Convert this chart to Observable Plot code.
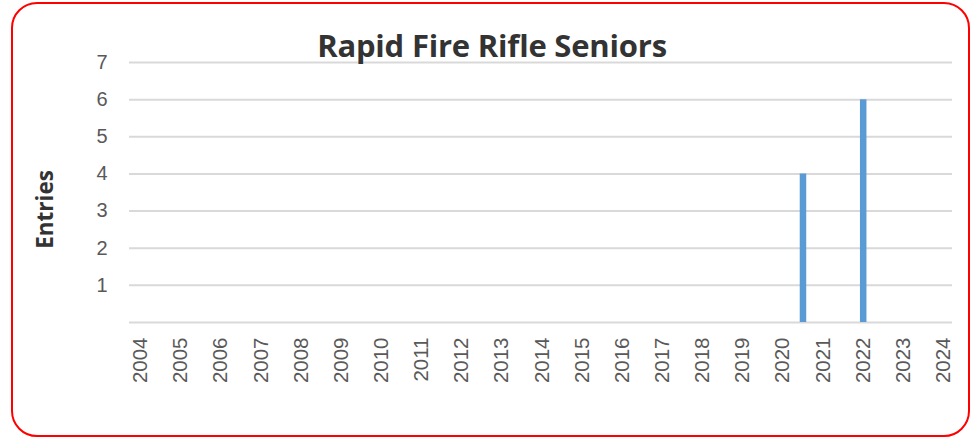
<!DOCTYPE html>
<html>
<head>
<meta charset="utf-8">
<script src="https://cdn.jsdelivr.net/npm/d3@7"></script>
<script src="https://cdn.jsdelivr.net/npm/@observablehq/plot@0.6"></script>
<style>
  html, body { margin: 0; padding: 0; background: #fff; }
  #wrap { position: relative; width: 974px; height: 439px; overflow: hidden; }
  #frame { position: absolute; left: 11px; top: 2px; width: 955px; height: 431px;
           border: 2.5px solid #ff0000; border-radius: 26px; box-sizing: content-box; pointer-events: none; }
  #title { position: absolute; left: 0; width: 984px; top: 24px; text-align: center;
           font-family: "Open Sans", sans-serif; font-weight: 700; font-size: 31px; color: #333;
           letter-spacing: -0.2px; white-space: nowrap; }
  #chart { position: absolute; left: 0; top: 0; }
</style>
</head>
<body>
<div id="wrap">
  <div id="chart"></div>
  <div id="title">Rapid Fire Rifle Seniors</div>
  <div id="frame"></div>
</div>
<script>
const years = [2004,2005,2006,2007,2008,2009,2010,2011,2012,2013,2014,2015,2016,2017,2018,2019,2020,2021,2022,2023,2024];
const entryYears = [2020.5, 2022];
const entryValues = [4, 6];
const yTicks = [1,2,3,4,5,6,7];
const gridTicks = [0,1,2,3,4,5,6,7];

const data = entryYears.map((x, i) => ({x, y: entryValues[i]}));

const plot = Plot.plot({
  width: 974,
  height: 439,
  marginLeft: 129,
  marginRight: 22,
  marginTop: 62,
  marginBottom: 117,
  style: { fontFamily: "'Liberation Sans', Arial, sans-serif", background: "transparent" },
  x: { domain: [2003.726, 2024.224] },
  y: { domain: [0, 7] },
  marks: [
    Plot.ruleY(gridTicks, { stroke: "#d9d9d9", strokeWidth: 2 }),
    Plot.ruleX(data, { x: "x", y1: 0, y2: "y", stroke: "#5b9bd5", strokeWidth: 6.5 }),
    Plot.axisX(years, { tickSize: 0, tickPadding: 15, tickRotate: -90, tickFormat: d => String(d),
      fontSize: 20.5, fill: "#595959", label: null }),
    Plot.axisY(yTicks, { tickSize: 0, tickPadding: 22, fontSize: 20, fill: "#595959", label: null }),
    Plot.text(["Entries"], { frameAnchor: "left", textAnchor: "middle", dx: -84, dy: 17, rotate: -90, text: d => d,
      fontSize: 22.5, fontWeight: "bold", fill: "#333", fontFamily: "'Open Sans', sans-serif" })
  ]
});
document.getElementById("chart").appendChild(plot);
</script>
</body>
</html>
